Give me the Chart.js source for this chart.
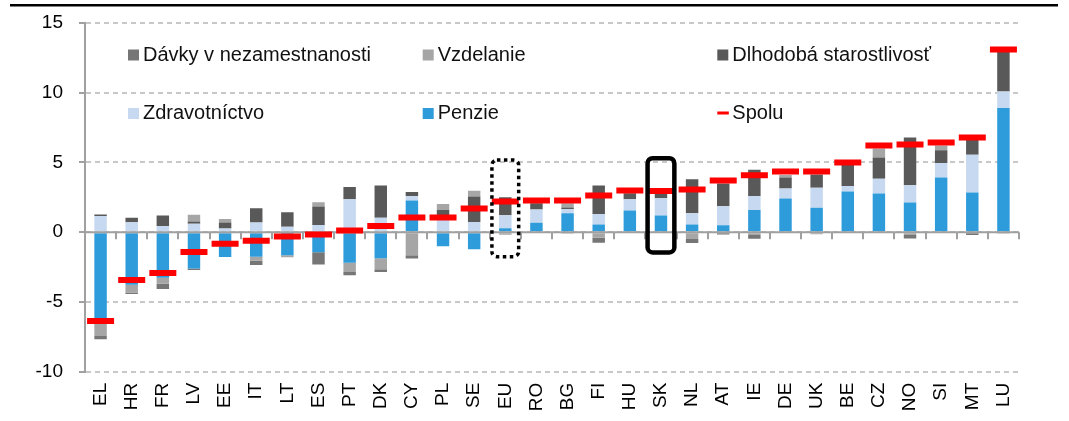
<!DOCTYPE html>
<html><head><meta charset="utf-8">
<script src="https://cdn.jsdelivr.net/npm/chart.js@4.4.1/dist/chart.umd.min.js"></script>
<style>html,body{margin:0;padding:0;background:#fff}#wrap{width:1069px;height:421px;position:relative}</style>
</head><body><div id="wrap"><canvas id="c" width="1069" height="421"></canvas></div>
<script>
const categories = ['EL','HR','FR','LV','EE','IT','LT','ES','PT','DK','CY','PL','SE','EU','RO','BG','FI','HU','SK','NL','AT','IE','DE','UK','BE','CZ','NO','SI','MT','LU'];
const penzie   = [-6.58,-3.76,-3.26,-2.61,-1.77,-1.75,-1.65,-1.44,-2.18,-1.87,2.27,-1.0,-1.22,0.29,0.67,1.36,0.55,1.55,1.19,0.55,0.5,1.6,2.42,1.75,2.92,2.77,2.13,3.92,2.84,8.9];
const zdrav    = [1.17,0.71,0.45,0.6,0.26,0.69,0.4,0.52,2.37,1.03,0.33,1.24,0.74,0.93,0.95,0.31,0.76,0.82,1.25,0.81,1.37,1.0,0.71,1.43,0.4,1.06,1.24,1.05,2.71,1.19];
const dlhodoba = [0.1,0.33,0.74,0.16,0.43,1.03,1.03,1.32,0.88,2.32,0.29,0.36,1.82,1.29,0.46,0.1,2.04,0.43,0.31,2.44,1.62,1.87,0.79,0.96,1.51,1.53,3.42,0.91,1.1,2.87];
const vzdelanie= [-0.86,-0.57,-0.43,0.5,0.26,-0.29,-0.15,0.31,-0.67,-0.79,-1.65,0.43,0.41,-0.19,0,0.31,-0.4,0,0,-0.48,0,-0.2,0.19,-0.14,0,0.64,-0.2,0.34,0.15,0];
const davky    = [-0.24,-0.1,-0.38,-0.1,0,-0.31,0,-0.88,-0.24,-0.19,-0.24,0,0,0,0,-0.1,-0.35,0,0,-0.29,-0.17,-0.26,0,0,0,0,-0.25,0,-0.2,-0.05];
const spolu    = [-6.37,-3.42,-2.92,-1.41,-0.82,-0.62,-0.31,-0.17,0.12,0.45,1.05,1.05,1.7,2.2,2.27,2.27,2.63,2.99,2.96,3.06,3.7,4.09,4.35,4.35,5.0,6.22,6.29,6.43,6.79,13.1];
const yTicks = [-10,-5,0,5,10,15];
const highlights = [
  {cat:'EU', top:5.17, bottom:-1.75, style:'dotted'},
  {cat:'SK', top:5.31, bottom:-1.45, style:'solid'}
];

const FONT = '"Liberation Sans", Arial, Helvetica, sans-serif';
const barSeries = [
  {label:'Penzie', data:penzie, color:'#2E9BDB'},
  {label:'Zdravotníctvo', data:zdrav, color:'#C6D9F0'},
  {label:'Dlhodobá starostlivosť', data:dlhodoba, color:'#595959'},
  {label:'Vzdelanie', data:vzdelanie, color:'#A6A6A6'},
  {label:'Dávky v nezamestnanosti', data:davky, color:'#767676'}
];

const datasets = barSeries.map(s => ({
  type:'bar', label:s.label, data:s.data, backgroundColor:s.color,
  stack:'main', categoryPercentage:1.0, barPercentage:0.4, borderWidth:0
}));
datasets.push({
  type:'line', label:'Spolu', data:spolu, stack:'spolu', showLine:false,
  pointStyle:'line', pointRadius:13.5, pointHoverRadius:13.5, pointBorderWidth:6,
  borderColor:'#FF0000', pointBorderColor:'#FF0000', backgroundColor:'#FF0000', order:-1
});

const deco = {
  id:'deco',
  beforeDraw(chart){
    const c = chart.ctx;
    c.save();
    c.fillStyle = '#000';
    c.fillRect(10, 4, 1048, 2.5);
    c.restore();
  },
  beforeDatasetDraw(chart, args){
    if (args.index !== datasets.length - 1) return;
    const c = chart.ctx, xs = chart.scales.x, ys = chart.scales.y;
    const y0 = ys.getPixelForValue(0);
    c.save();
    c.strokeStyle = '#A0A0A0';
    c.lineWidth = 2;
    c.beginPath();
    c.moveTo(xs.left, y0); c.lineTo(xs.right, y0);
    const n = categories.length;
    const w = (xs.right - xs.left) / n;
    for (let i = 0; i <= n; i++) {
      const x = Math.round(xs.left + i * w);
      c.moveTo(x, y0); c.lineTo(x, y0 + 7);
    }
    c.stroke();
    c.restore();
  },
  afterDraw(chart){
    const c = chart.ctx, xs = chart.scales.x, ys = chart.scales.y;
    const cols = [128, 422.7, 717.3];
    const rows = [60.5, 119];
    const items = barSeries.slice().reverse().map(s => ({label:s.label, color:s.color, kind:'box'}));
    items.push({label:'Spolu', color:'#FF0000', kind:'line'});
    c.save();
    c.font = '20px ' + FONT;
    c.textBaseline = 'alphabetic';
    c.textAlign = 'left';
    items.forEach((it, i) => {
      const x = cols[i % 3], yb = rows[Math.floor(i / 3)];
      c.fillStyle = it.color;
      if (it.kind === 'box') c.fillRect(x, yb - 11, 11, 11);
      else c.fillRect(x, yb - 7.5, 11.5, 3);
      c.fillStyle = '#111';
      c.fillText(it.label, x + 15, yb);
    });
    c.restore();
    const w = (xs.right - xs.left) / categories.length;
    highlights.forEach(h => {
      const idx = categories.indexOf(h.cat);
      const cx = xs.getPixelForValue(idx);
      const hw = w * 0.43;
      const top = ys.getPixelForValue(h.top), bot = ys.getPixelForValue(h.bottom);
      c.save();
      c.strokeStyle = '#000';
      if (h.style === 'dotted') { c.lineWidth = 3.5; c.setLineDash([3.5, 3.5]); }
      else { c.lineWidth = 4.5; }
      c.beginPath();
      c.roundRect(cx - hw, top, hw * 2, bot - top, 5);
      c.stroke();
      c.restore();
    });
  }
};

new Chart(document.getElementById('c').getContext('2d'), {
  type:'bar',
  data:{labels:categories, datasets},
  options:{
    responsive:false, animation:false, devicePixelRatio:1,
    layout:{padding:{top:23, right:50, left:0, bottom:0}},
    plugins:{legend:{display:false}, tooltip:{enabled:false}},
    scales:{
      x:{
        stacked:true, offset:true,
        grid:{display:false, drawTicks:false},
        border:{display:false},
        ticks:{minRotation:90, maxRotation:90, autoSkip:false, padding:11, color:'#000', font:{family:FONT, size:19}},
        afterFit(s){ s.height = 49.3; s.paddingLeft = 0; s.paddingRight = 0; s.paddingTop = 0; s.paddingBottom = 0; }
      },
      y:{
        stacked:true, min:-10, max:15,
        afterBuildTicks(s){ s.ticks = yTicks.map(v => ({value:v})); },
        ticks:{padding:16, color:'#000', font:{family:FONT, size:19}},
        grid:{color:'#C8C8C8', lineWidth:2, tickLength:6, tickColor:'#A0A0A0', tickWidth:2, tickBorderDash:[]},
        border:{display:true, color:'#A0A0A0', width:2, dash:[5,4]},
        afterFit(s){ s.width = 85; s.paddingTop = 0; s.paddingBottom = 0; s.paddingLeft = 0; s.paddingRight = 0; }
      }
    }
  },
  plugins:[deco]
});
</script>
</body></html>
